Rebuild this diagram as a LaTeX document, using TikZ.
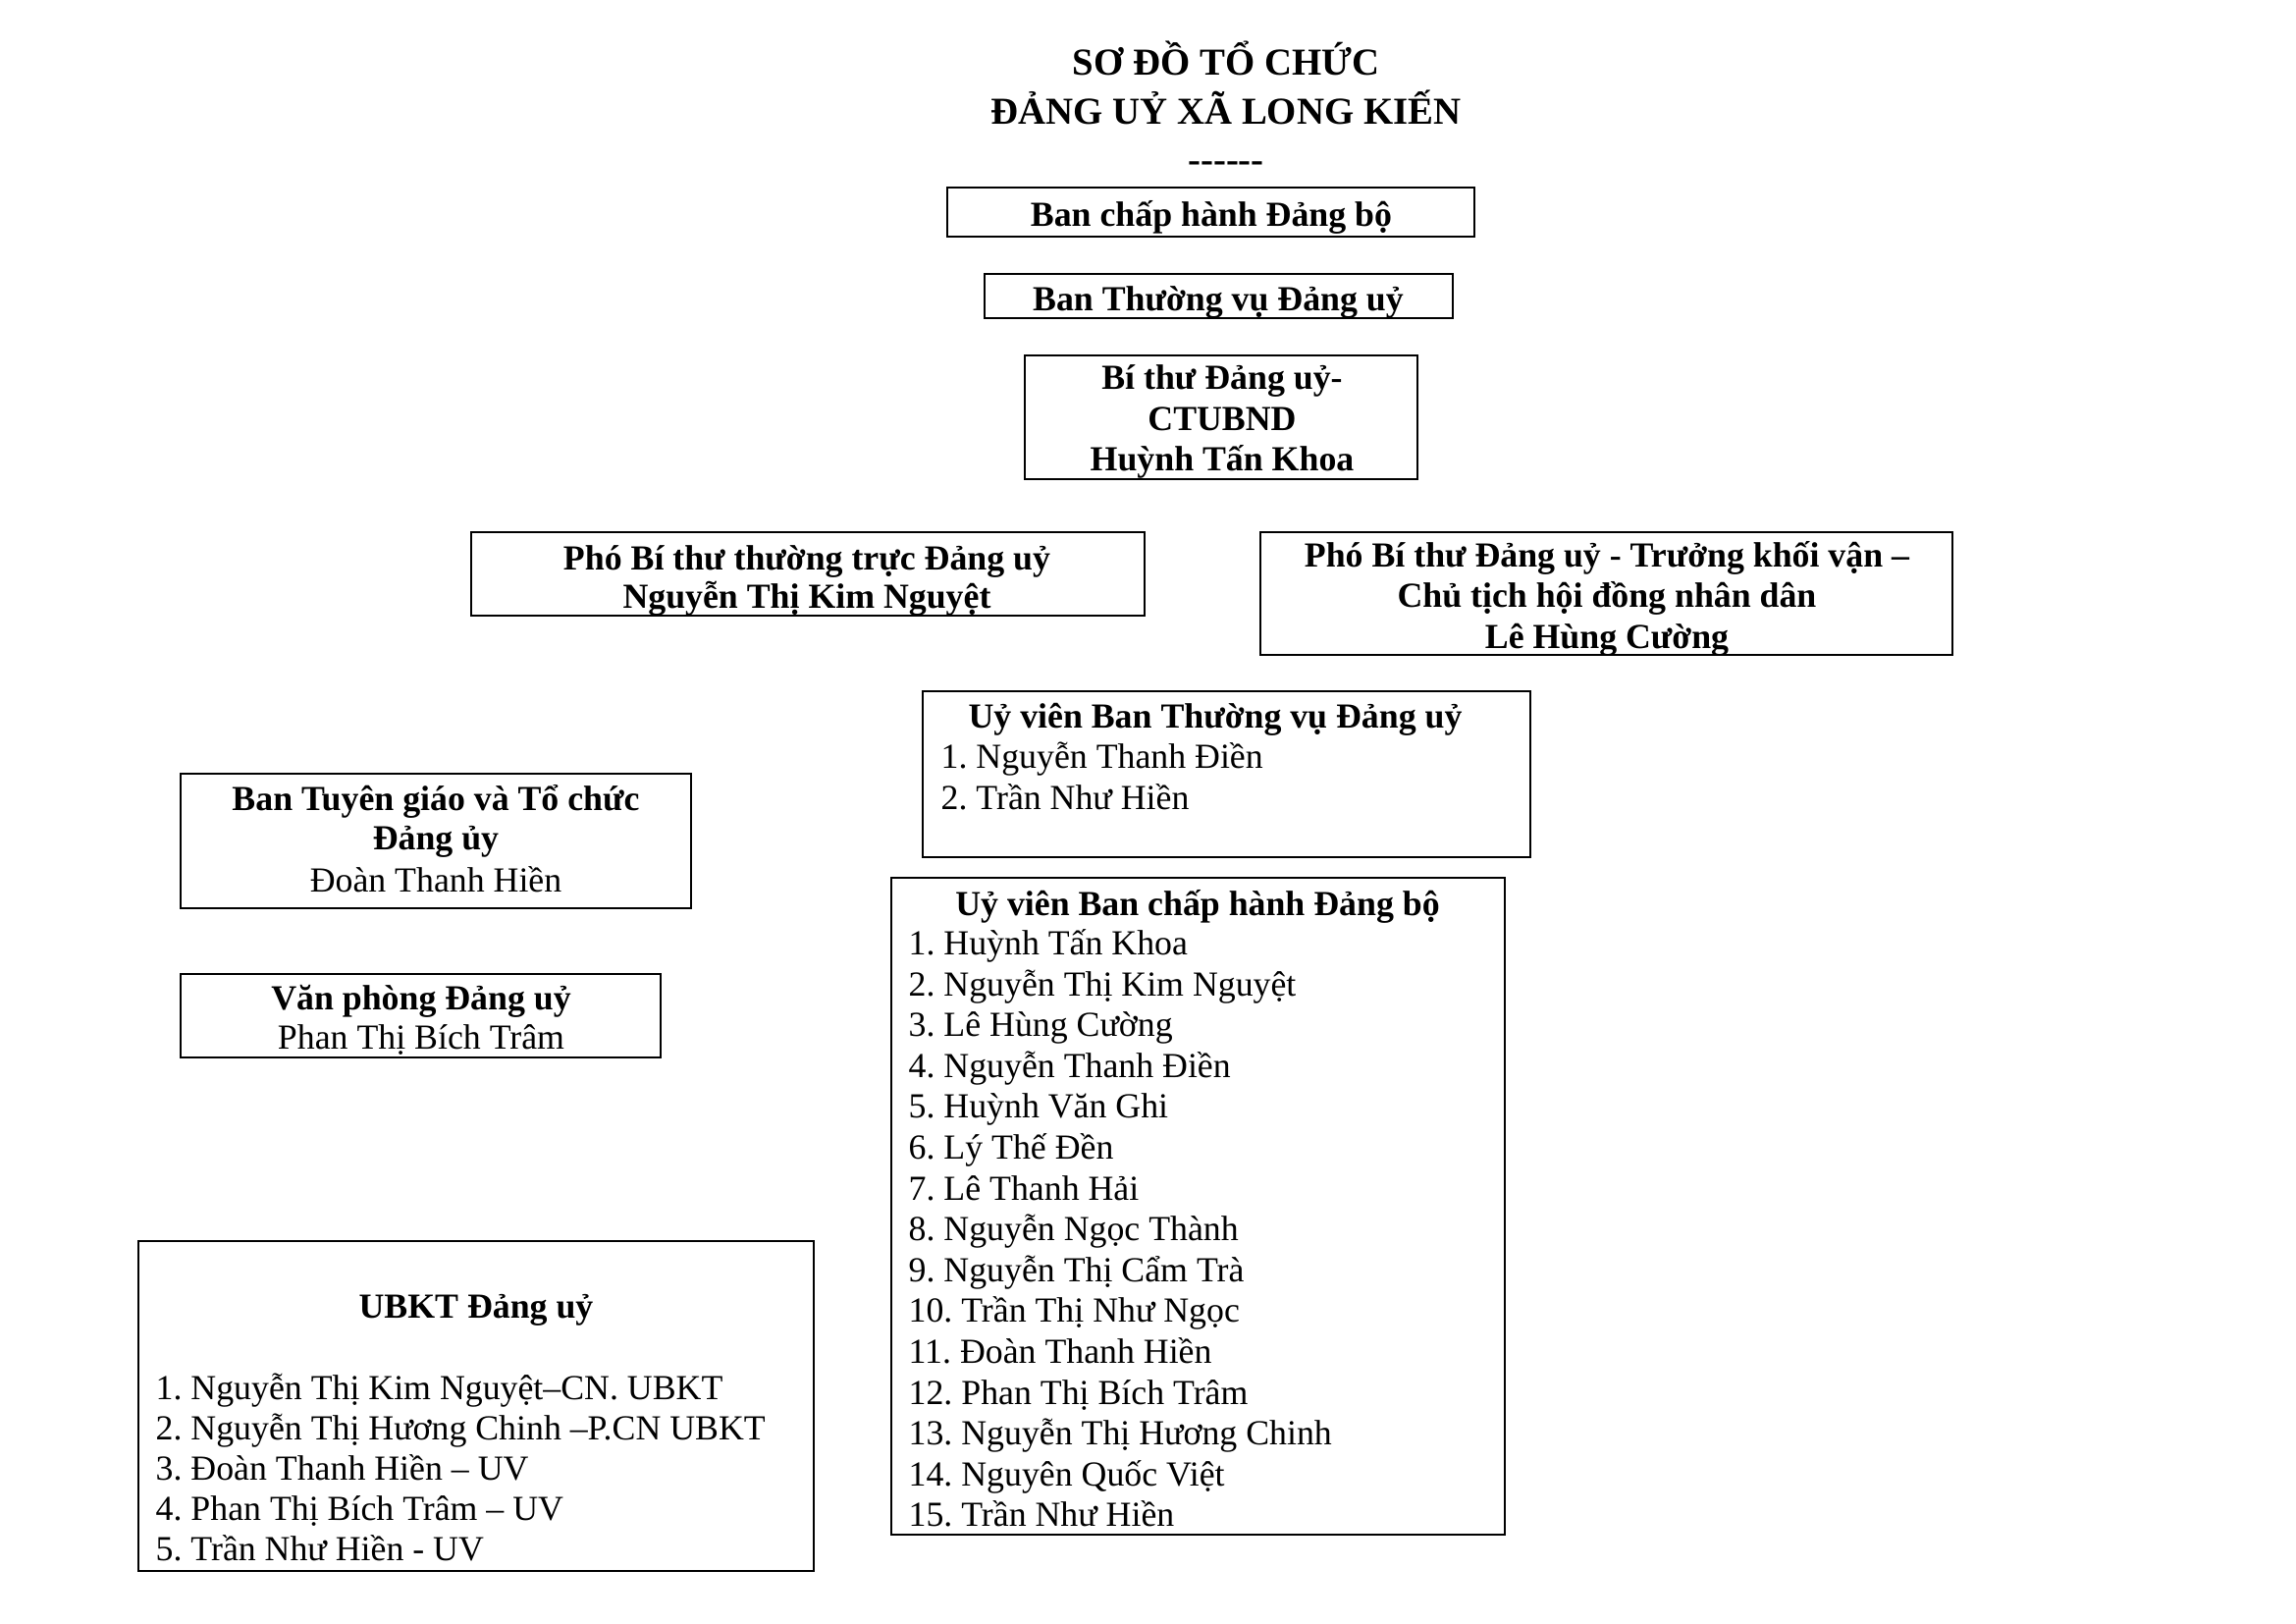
\documentclass[tikz,border=0pt]{standalone}
\usepackage{fontspec}
\setmainfont{Liberation Serif}
\usetikzlibrary{fit}
\frenchspacing
\begin{document}
\begin{tikzpicture}[x=0.3pt,y=-0.3pt,
  box/.style={draw, line width=0.6pt, inner sep=0pt},
  ttl/.style={inner sep=0pt, anchor=base, font=\fontsize{11.64pt}{13pt}\selectfont\bfseries},
  hd/.style={inner sep=0pt, anchor=base, font=\fontsize{10.74pt}{12pt}\selectfont\bfseries},
  txt/.style={inner sep=0pt, anchor=base, font=\fontsize{10.74pt}{12pt}\selectfont},
  item/.style={txt, anchor=base west}]
\fill[white] (0,0) rectangle (2339,1654);
\useasboundingbox (0,0) rectangle (2339,1654);

% title
\node[ttl] (t1) at (1249,77) {SƠ ĐỒ TỔ CHỨC};
\node[ttl] (t2) at (1249,127) {ĐẢNG UỶ XÃ LONG KIẾN};
\node[ttl] (t3) at (1249,176) {-{}-{}-{}-{}-{}-};

% boxes
\node[box, fit={(965,191) (1502,241)}] (bch) {};
\node[box, fit={(1003,279) (1480,324)}] (btv) {};
\node[box, fit={(1044,362) (1444,488)}] (bithu) {};
\node[box, fit={(480,542) (1166,627)}] (pbt1) {};
\node[box, fit={(1284,542) (1989,667)}] (pbt2) {};
\node[box, fit={(940,704) (1559,873)}] (uvbtv) {};
\node[box, fit={(184,788) (704,925)}] (tgtc) {};
\node[box, fit={(184,992) (673,1077)}] (vp) {};
\node[box, fit={(908,894) (1533,1563)}] (uvbch) {};
\node[box, fit={(141,1264) (829,1600)}] (ubkt) {};

% texts
\node[hd] (bchT) at (1234,230.5) {Ban chấp hành Đảng bộ};
\node[hd] (btvT) at (1241,316.5) {Ban Thường vụ Đảng uỷ};
\node[hd] (bithu1) at (1245,396.5) {Bí thư Đảng uỷ-};
\node[hd] (bithu2) at (1245,439) {CTUBND};
\node[hd] (bithu3) at (1245,480) {Huỳnh Tấn Khoa};

\node[hd] (pbt1a) at (822,580) {Phó Bí thư thường trực Đảng uỷ};
\node[hd] (pbt1b) at (822,620) {Nguyễn Thị Kim Nguyệt};

\node[hd] (pbt2a) at (1637,578) {Phó Bí thư Đảng uỷ - Trưởng khối vận –};
\node[hd] (pbt2b) at (1637,619) {Chủ tịch hội đồng nhân dân};
\node[hd] (pbt2c) at (1637,660) {Lê Hùng Cường};

\node[hd] (uvbtvT) at (1238,742) {Uỷ viên Ban Thường vụ Đảng uỷ};
\node[item] (uvbtv1) at (958,782.5) {1. Nguyễn Thanh Điền};
\node[item] (uvbtv2) at (958,824.5) {2. Trần Như Hiền};

\node[hd] (tgtc1) at (444,825.5) {Ban Tuyên giáo và Tổ chức};
\node[hd] (tgtc2) at (444,865) {Đảng ủy};
\node[txt] (tgtc3) at (444,908) {Đoàn Thanh Hiền};

\node[hd] (vp1) at (429,1028.5) {Văn phòng Đảng uỷ};
\node[txt] (vp2) at (429,1068.5) {Phan Thị Bích Trâm};

\node[hd] (uvbchT) at (1220,932.5) {Uỷ viên Ban chấp hành Đảng bộ};
\foreach \n [count=\i] in {Huỳnh Tấn Khoa, Nguyễn Thị Kim Nguyệt, Lê Hùng Cường,
  Nguyễn Thanh Điền, Huỳnh Văn Ghi, Lý Thế Đền, Lê Thanh Hải, Nguyễn Ngọc Thành,
  Nguyễn Thị Cẩm Trà, Trần Thị Như Ngọc, Đoàn Thanh Hiền, Phan Thị Bích Trâm,
  Nguyễn Thị Hương Chinh, Nguyên Quốc Việt, Trần Như Hiền}
  \node[item] (uvbch\i) at (925,{972.5+41.6*(\i-1)}) {\i. \n};

\node[hd] (ubktT) at (485,1342) {UBKT Đảng uỷ};
\foreach \n [count=\i] in {Nguyễn Thị Kim Nguyệt–CN. UBKT, Nguyễn Thị Hương Chinh –P.CN UBKT,
  Đoàn Thanh Hiền – UV, Phan Thị Bích Trâm – UV, Trần Như Hiền - UV}
  \node[item] (ubkt\i) at (158,{1425+41*(\i-1)}) {\i. \n};
\end{tikzpicture}
\end{document}
